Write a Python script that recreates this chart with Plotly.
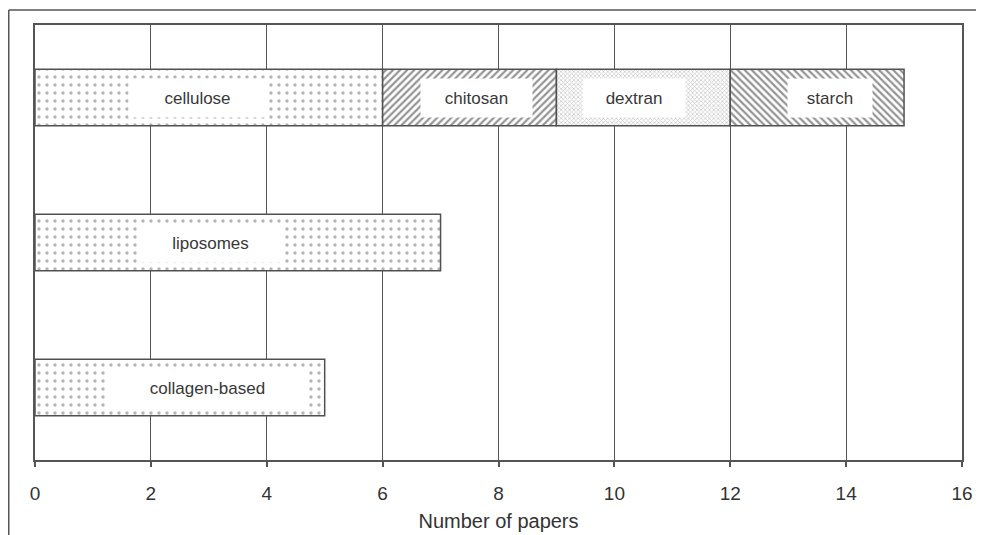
import plotly.graph_objects as go

# ---- data ----
materials = ["cellulose", "chitosan", "dextran", "starch", "liposomes", "collagen-based"]
papers = [6, 3, 3, 3, 7, 5]
rows = [2, 2, 2, 2, 1, 0]          # 2 = top row, 0 = bottom row
x_ticks = [0, 2, 4, 6, 8, 10, 12, 14, 16]

# ---- styles ----
shapes_pat = [".", "/", "x", "\\", ".", "."]
pat_size = [8, 5, 3, 5, 8, 8]
pat_sol = [0.14, 0.45, 0.4, 0.45, 0.14, 0.14]
pat_fg = ["#6a6a6a", "#2a2a2a", "#8a8a8a", "#2a2a2a", "#6a6a6a", "#6a6a6a"]
label_shift = [-11, 7, -9, 13, -27, 28]
label_width = [137, 111, 102, 84, 143, 197]

FONT = "Liberation Sans, Arial, Helvetica"

# stacked bases computed from data
base = []
acc = {}
for r, v in zip(rows, papers):
    b = acc.get(r, 0)
    base.append(b)
    acc[r] = b + v

fig = go.Figure()
fig.add_trace(go.Bar(
    x=papers, y=rows, base=base, orientation="h", width=0.39,
    marker=dict(
        color="white",
        line=dict(color="#505050", width=1.5),
        pattern=dict(shape=shapes_pat, size=pat_size, solidity=pat_sol,
                     fgcolor=pat_fg, bgcolor="white", fillmode="overlay"),
    ),
    hoverinfo="skip", showlegend=False,
))

for i, m in enumerate(materials):
    fig.add_annotation(
        x=base[i] + papers[i] / 2, y=rows[i], text=m, showarrow=False,
        xshift=label_shift[i], bgcolor="white", width=label_width[i], height=38,
        borderpad=0, font=dict(size=17, color="#383838", family=FONT),
    )

# outer frame (top and left only visible)
fig.add_shape(type="line", xref="paper", yref="paper", x0=-0.0283, x1=1.05,
              y0=1.0345, y1=1.0345, line=dict(color="#555555", width=1.5))
fig.add_shape(type="line", xref="paper", yref="paper", x0=-0.0283, x1=-0.0283,
              y0=1.0345, y1=-0.3, line=dict(color="#555555", width=1.5))

# page body has an 8px margin: shrink figure so the plot area lands in place
fig.update_layout(
    width=976, height=527,
    margin=dict(l=27, r=22, t=17, b=75),
    paper_bgcolor="white", plot_bgcolor="white",
    font=dict(family=FONT, color="#333333"),
    xaxis=dict(
        range=[0, 16], tickvals=x_ticks, ticktext=[str(t) for t in x_ticks],
        showgrid=True, gridcolor="#555555", gridwidth=1,
        showline=True, linecolor="#555555", linewidth=2, mirror=True,
        ticks="outside", ticklen=5, tickcolor="#555555", tickwidth=1.5,
        tickfont=dict(size=19, color="#333333"), ticklabelstandoff=10,
        title=dict(text="Number of papers", font=dict(size=20, color="#333333"), standoff=11),
        zeroline=False, fixedrange=True, automargin=False,
    ),
    yaxis=dict(
        range=[-0.5, 2.5], showticklabels=False, ticks="", showgrid=False,
        showline=True, linecolor="#555555", linewidth=2, mirror=True,
        zeroline=False, fixedrange=True, automargin=False,
    ),
)

fig.write_html("out.html")
